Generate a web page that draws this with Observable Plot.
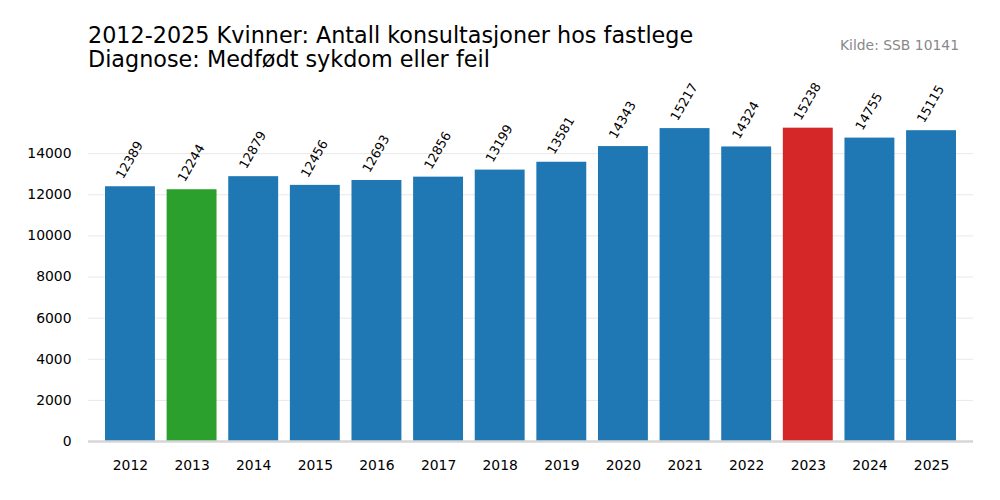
<!DOCTYPE html>
<html>
<head>
<meta charset="utf-8">
<script src="https://cdn.jsdelivr.net/npm/d3@7"></script>
<script src="https://cdn.jsdelivr.net/npm/@observablehq/plot@0.6"></script>
<style>
  html, body { margin: 0; padding: 0; background: #fff; }
  #wrap { position: relative; width: 1000px; height: 500px; font-family: "DejaVu Sans", sans-serif; }
  #title { position: absolute; left: 88px; top: 24px; font-size: 22.3px; line-height: 23.5px; color: #000; white-space: nowrap; }
  #source { position: absolute; right: 41px; top: 37px; font-size: 13.9px; line-height: 16px; color: #888; }
  #chart { position: absolute; left: 0; top: 0; }
</style>
</head>
<body>
<div id="wrap">
  <div id="chart"></div>
  <div id="title">2012-2025 Kvinner: Antall konsultasjoner hos fastlege<br>Diagnose: Medfødt sykdom eller feil</div>
  <div id="source">Kilde: SSB 10141</div>
</div>
<script>
const years = ["2012","2013","2014","2015","2016","2017","2018","2019","2020","2021","2022","2023","2024","2025"];
const values = [12389, 12244, 12879, 12456, 12693, 12856, 13199, 13581, 14343, 15217, 14324, 15238, 14755, 15115];
const yTicks = [0, 2000, 4000, 6000, 8000, 10000, 12000, 14000];

const minV = d3.min(values), maxV = d3.max(values);
const data = years.map((y, i) => ({
  year: y,
  value: values[i],
  kind: values[i] === minV ? "min" : values[i] === maxV ? "max" : "normal"
}));

const plot = Plot.plot({
  width: 1000,
  height: 500,
  marginLeft: 88,
  marginRight: 27,
  marginTop: 112,
  marginBottom: 59,
  style: { fontFamily: "DejaVu Sans, sans-serif", fontSize: "13.9px", color: "#000", background: "transparent" },
  x: { domain: years, range: [105, 956], paddingInner: 0.19, paddingOuter: 0, round: false, label: null },
  y: { domain: [0, 16000], label: null },
  color: { domain: ["normal", "min", "max"], range: ["#1f77b4", "#2ca02c", "#d62728"] },
  marks: [
    Plot.gridY(yTicks, { stroke: "#e8e8e8", strokeOpacity: 1, strokeWidth: 1 }),
    Plot.barY(data, { x: "year", y: "value", fill: "kind" }),
    Plot.ruleY([0], { stroke: "#d6d6d6", strokeWidth: 2.5 }),
    Plot.axisY(yTicks, { tickSize: 0, tickPadding: 17, label: null, fontSize: 13.9, tickFormat: d3.format("d") }),
    Plot.axisX({ tickSize: 0, tickPadding: 19, label: null, fontSize: 13.9 }),
    Plot.text(data, {
      x: "year", y: "value", text: d => String(d.value),
      rotate: -60, textAnchor: "start", lineAnchor: "middle",
      dx: -11, dy: -9, fontSize: 12.8, fill: "#000"
    })
  ]
});
document.getElementById("chart").appendChild(plot);
</script>
</body>
</html>
